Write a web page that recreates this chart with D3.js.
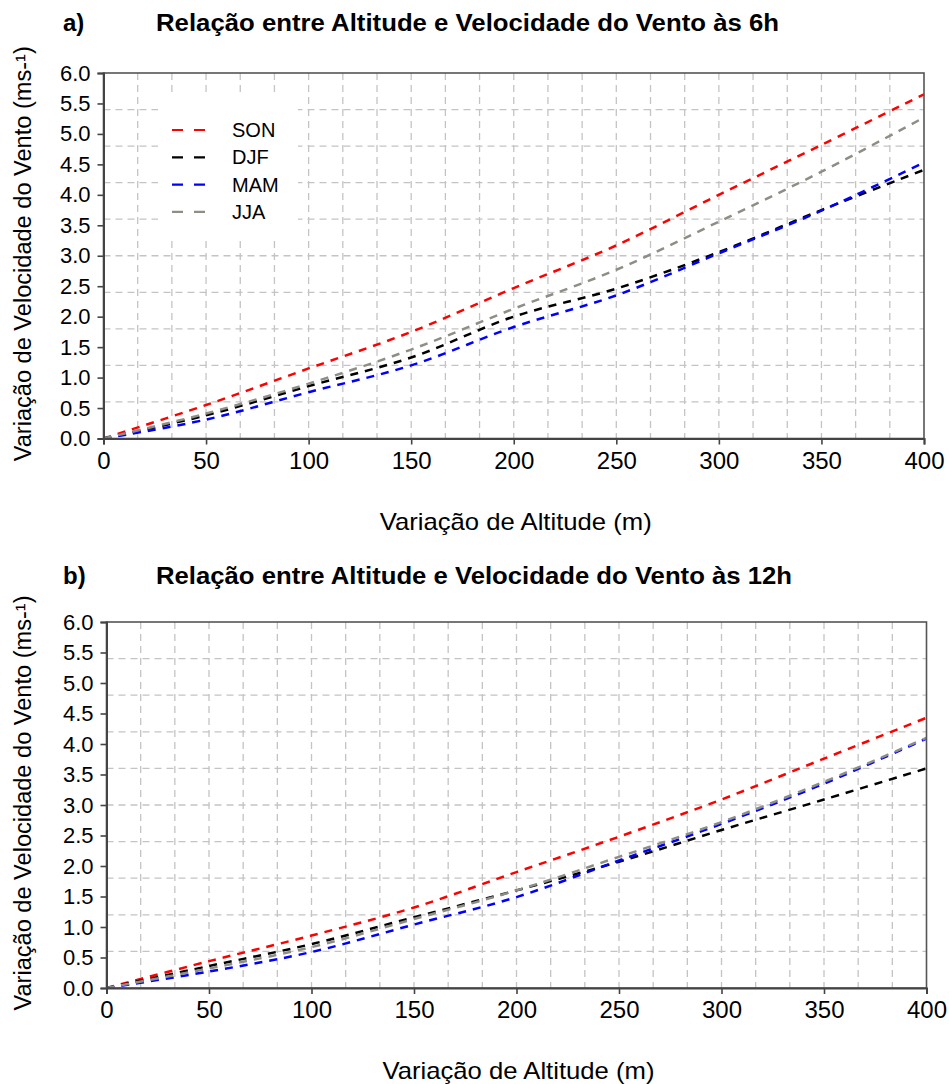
<!DOCTYPE html>
<html>
<head>
<meta charset="utf-8">
<script src="https://cdn.jsdelivr.net/npm/d3@7"></script>
<style>
  html, body { margin: 0; padding: 0; background: #fff; }
  svg { display: block; }
  text { font-family: "Liberation Sans", Arial, sans-serif; fill: #000; }
</style>
</head>
<body>
<svg id="chart" width="949" height="1084"></svg>
<script>
// Altitude difference (m) at which each curve is sampled
const altitude = [0, 50, 100, 150, 200, 250, 300, 350, 400];

// Seasons and their line colours
const seasons = ["SON", "DJF", "MAM", "JJA"];
const seasonColors = ["#ff0000", "#000000", "#0000ff", "#8e8e86"];

// Wind-speed change (m/s) at 06h
const son06 = [0, 0.55, 1.15, 1.75, 2.47, 3.17, 4.00, 4.82, 5.65];
const djf06 = [0, 0.38, 0.86, 1.33, 2.00, 2.46, 3.06, 3.75, 4.41];
const mam06 = [0, 0.31, 0.76, 1.20, 1.83, 2.35, 3.04, 3.74, 4.53];
const jja06 = [0, 0.41, 0.90, 1.46, 2.13, 2.77, 3.56, 4.38, 5.27];

// Wind-speed change (m/s) at 12h
const son12 = [0, 0.44, 0.86, 1.32, 1.90, 2.48, 3.09, 3.76, 4.43];
const djf12 = [0, 0.36, 0.72, 1.16, 1.60, 2.07, 2.59, 3.09, 3.60];
const mam12 = [0, 0.27, 0.59, 1.04, 1.49, 2.09, 2.69, 3.35, 4.09];
const jja12 = [0, 0.32, 0.67, 1.13, 1.60, 2.15, 2.72, 3.38, 4.10];

// Axis ticks
const xTicks = [0, 50, 100, 150, 200, 250, 300, 350, 400];
const yTicks = [0, 0.5, 1, 1.5, 2, 2.5, 3, 3.5, 4, 4.5, 5, 5.5, 6];

const panelTitles = [
  "Relação entre Altitude e Velocidade do Vento às 6h",
  "Relação entre Altitude e Velocidade do Vento às 12h"
];
const panelLetters = ["a)", "b)"];
const xTitle = "Variação de Altitude (m)";
const yTitle = "Variação de Velocidade do Vento (ms-¹)";

const svg = d3.select("#chart");

const panels = [
  { letter: panelLetters[0], title: panelTitles[0], titleW: 623, series: [son06, djf06, mam06, jja06],
    left: 103.5, right: 924, top: 73, bottom: 438.5, titleY: 31, legend: true },
  { letter: panelLetters[1], title: panelTitles[1], titleW: 636, series: [son12, djf12, mam12, jja12],
    left: 106.5, right: 926.5, top: 622, bottom: 988, titleY: 584, legend: false }
];

panels.forEach(p => {
  const g = svg.append("g");
  const x = d3.scaleLinear().domain([0, 400]).range([p.left, p.right]);
  const y = d3.scaleLinear().domain([0, 6]).range([p.bottom, p.top]);

  // dashed grid: 24 vertical and 10 horizontal divisions
  const gridX = d3.range(1, 24).map(i => i * 400 / 24);
  const gridY = d3.range(1, 10).map(i => i * 0.6);
  const grid = g.append("g")
    .attr("stroke", "#c4c4c4").attr("stroke-width", 1.3)
    .attr("stroke-dasharray", "7,5");
  grid.selectAll("line.v").data(gridX).join("line")
    .attr("x1", d => x(d)).attr("x2", d => x(d))
    .attr("y1", p.top).attr("y2", p.bottom);
  grid.selectAll("line.h").data(gridY).join("line")
    .attr("x1", p.left).attr("x2", p.right)
    .attr("y1", d => y(d)).attr("y2", d => y(d));

  // legend box sits over the grid
  if (p.legend) {
    const lg = g.append("g");
    lg.append("rect").attr("x", 158).attr("y", 93).attr("width", 140).attr("height", 147)
      .attr("fill", "#fff");
    seasons.forEach((s, i) => {
      const ly = 130 + i * 27.3;
      lg.append("line").attr("x1", 172).attr("x2", 205).attr("y1", ly).attr("y2", ly)
        .attr("stroke", seasonColors[i]).attr("stroke-width", 2.2)
        .attr("stroke-dasharray", "11,11");
      lg.append("text").attr("x", 232).attr("y", ly + 7)
        .attr("font-size", 20).text(s);
    });
  }

  // data curves
  const line = d3.line()
    .x((d, i) => x(altitude[i]))
    .y(d => y(d))
    .curve(d3.curveCatmullRom.alpha(0.5));
  p.series.forEach((vals, i) => {
    g.append("path").datum(vals)
      .attr("d", line)
      .attr("fill", "none")
      .attr("stroke", seasonColors[i])
      .attr("stroke-width", 2.5)
      .attr("stroke-dasharray", "8,7");
  });

  // frame
  g.append("rect").attr("x", p.left).attr("y", p.top)
    .attr("width", p.right - p.left).attr("height", p.bottom - p.top)
    .attr("fill", "none").attr("stroke", "#555").attr("stroke-width", 1.6);

  // axes
  const xAxis = g.append("g").attr("transform", `translate(0,${p.bottom})`)
    .call(d3.axisBottom(x).tickValues(xTicks).tickSize(6).tickPadding(7)
      .tickFormat(d3.format("d")));
  xAxis.select(".domain").attr("stroke", "#444").attr("stroke-width", 2);
  xAxis.selectAll(".tick line").attr("stroke", "#444").attr("stroke-width", 1.6);
  xAxis.selectAll(".tick text").attr("font-size", 24)
    .attr("font-family", "'Liberation Sans', Arial, sans-serif").attr("fill", "#000");

  const yAxis = g.append("g").attr("transform", `translate(${p.left},0)`)
    .call(d3.axisLeft(y).tickValues(yTicks).tickSize(6).tickPadding(7)
      .tickFormat(d3.format(".1f")));
  yAxis.select(".domain").attr("stroke", "#444").attr("stroke-width", 2);
  yAxis.selectAll(".tick line").attr("stroke", "#444").attr("stroke-width", 1.6);
  yAxis.selectAll(".tick text").attr("font-size", 22)
    .attr("font-family", "'Liberation Sans', Arial, sans-serif").attr("fill", "#000");

  // titles
  g.append("text").attr("x", 63).attr("y", p.titleY)
    .attr("font-family", "'Liberation Serif', 'Times New Roman', serif")
    .attr("font-weight", "bold").attr("font-size", 24).text(p.letter);
  g.append("text").attr("x", 156).attr("y", p.titleY)
    .attr("font-weight", "bold").attr("font-size", 23)
    .attr("textLength", p.titleW).attr("lengthAdjust", "spacingAndGlyphs")
    .text(p.title);

  g.append("text")
    .attr("x", (p.left + p.right) / 2 + 2).attr("y", p.bottom + 91)
    .attr("text-anchor", "middle").attr("font-size", 24)
    .attr("textLength", 272).attr("lengthAdjust", "spacingAndGlyphs")
    .text(xTitle);

  g.append("text")
    .attr("transform", `translate(${31},${(p.top + p.bottom) / 2 - 2}) rotate(-90)`)
    .attr("text-anchor", "middle").attr("font-size", 23)
    .attr("textLength", 415).attr("lengthAdjust", "spacingAndGlyphs")
    .text(yTitle);
});
</script>
</body>
</html>
